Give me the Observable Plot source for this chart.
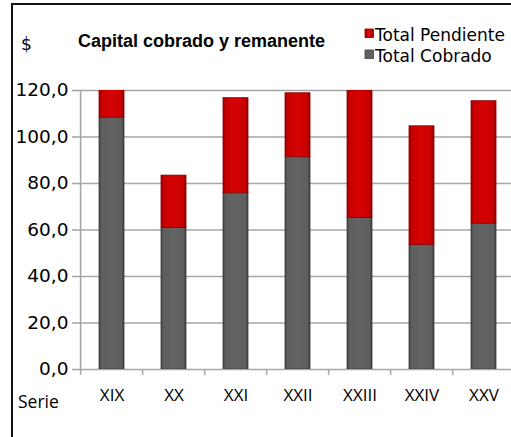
<!DOCTYPE html>
<html><head><meta charset="utf-8">
<script src="https://cdn.jsdelivr.net/npm/d3@7"></script>
<script src="https://cdn.jsdelivr.net/npm/@observablehq/plot@0.6"></script>
<style>
html,body{margin:0;padding:0;background:#fff;overflow:hidden}
#wrap{position:relative;width:511px;height:437px;overflow:hidden;background:#fff}
#frame{position:absolute;left:11px;top:3px;width:600px;height:500px;border-left:2px solid #111;border-top:2px solid #111;box-sizing:border-box}
#chart{position:absolute;left:0;top:0;width:530px}
#chart svg{max-width:none !important}
#over{position:absolute;left:0;top:0}
</style></head><body>
<div id="wrap"><div id="frame"></div><div id="chart"></div><svg id="over" width="511" height="437"></svg></div>
<script>
const series = ["XIX","XX","XXI","XXII","XXIII","XXIV","XXV"];
const totalCobrado = [108.3, 60.9, 75.8, 91.3, 65.2, 53.6, 62.7];
const totalPendiente = [13.0, 22.5, 40.9, 27.5, 54.8, 51.0, 52.7];
const yTicks = [0,20,40,60,80,100,120];
const legendLabels = ["Total Pendiente","Total Cobrado"];
const titleText = "Capital cobrado y remanente";

const table = series.map((s,i)=>({serie:s, cobrado: totalCobrado[i], pendiente: totalPendiente[i], total: totalCobrado[i]+totalPendiente[i]}));
const fmt = d => d.toFixed(1).replace(".", ",");

const W = 530, H = 437, mL = 78, mR = 12.5, mT = 90, mB = 68;
const step = (W - mL - mR) / series.length;
const gridColor = "#a6a6a6";

const plot = Plot.plot({
  width: W, height: H,
  marginLeft: mL, marginRight: mR, marginTop: mT, marginBottom: mB,
  style: {background: "transparent", overflow: "visible", maxWidth: "none"},
  x: {domain: series, paddingInner: 0.6, paddingOuter: 0.3, axis: null, label: null},
  y: {domain: [0,120], axis: null, label: null},
  marks: [
    Plot.ruleY(yTicks, {stroke: gridColor, strokeWidth: 1.6}),
    Plot.ruleX([series[0]], {dx: -step/2, y1: 0, y2: 120, stroke: gridColor, strokeWidth: 1.6}),
    Plot.ruleX(series, {x: d=>d, dx: -step/2, y1: 0, y2: 0, insetBottom: -6, stroke: gridColor, strokeWidth: 1.6}),
    Plot.barY(table, {x: "serie", y1: 0, y2: "cobrado", fill: "url(#gGrey)", stroke: "#3c3c3c", strokeWidth: 0.8, clip: true}),
    Plot.barY(table, {x: "serie", y1: "cobrado", y2: "total", fill: "url(#gRed)", stroke: "#8a0000", strokeWidth: 0.8, clip: true}),
    Plot.axisY({ticks: yTicks, tickSize: 6, tickPadding: 4, tickFormat: fmt, stroke: gridColor, strokeWidth: 1.6,
      fontSize: 18.5, fontFamily: "DejaVu Sans", fill: "#000", anchor: "left", label: null}),
    Plot.axisX({tickSize: 0, tickPadding: 19, fontSize: 17, fontFamily: "Open Sans", fill: "#000", anchor: "bottom", label: null})
  ]
});
document.getElementById("chart").appendChild(plot);

// gradients
const svg = d3.select(plot);
const defs = svg.insert("defs", ":first-child");
const gr = defs.append("linearGradient").attr("id","gRed").attr("x1","0").attr("x2","1").attr("y1","0").attr("y2","0");
gr.append("stop").attr("offset","0").attr("stop-color","#9e0000");
gr.append("stop").attr("offset","0.12").attr("stop-color","#c80000");
gr.append("stop").attr("offset","0.5").attr("stop-color","#d60404");
gr.append("stop").attr("offset","0.88").attr("stop-color","#c80000");
gr.append("stop").attr("offset","1").attr("stop-color","#8e0000");
const gg = defs.append("linearGradient").attr("id","gGrey").attr("x1","0").attr("x2","1").attr("y1","0").attr("y2","0");
gg.append("stop").attr("offset","0").attr("stop-color","#444");
gg.append("stop").attr("offset","0.1").attr("stop-color","#5e5e5e");
gg.append("stop").attr("offset","0.5").attr("stop-color","#636363");
gg.append("stop").attr("offset","0.9").attr("stop-color","#5e5e5e");
gg.append("stop").attr("offset","1").attr("stop-color","#3a3a3a");

// overlay texts
const over = d3.select("#over");
const od = over.append("defs");
const g2 = od.append("linearGradient").attr("id","lRed").attr("x1","0").attr("x2","1");
g2.append("stop").attr("offset","0").attr("stop-color","#9e0000");
g2.append("stop").attr("offset","0.5").attr("stop-color","#e00808");
g2.append("stop").attr("offset","1").attr("stop-color","#9e0000");
over.append("text").attr("x",21).attr("y",50).attr("font-family","DejaVu Sans").attr("font-size",17).text("$");
over.append("text").attr("x",78).attr("y",47).attr("font-family","Liberation Sans").attr("font-weight","bold").attr("font-size",18).text(titleText);
const legendFills = ["url(#lRed)", "#5f5f5f"];
const legendStrokes = ["#8a0000", "#3c3c3c"];
const legendY = [41, 62];
legendLabels.forEach((l,i)=>{
  over.append("rect").attr("x",365).attr("y",legendY[i]-12).attr("width",8.5).attr("height",8.5)
    .attr("fill",legendFills[i]).attr("stroke",legendStrokes[i]).attr("stroke-width",0.8);
  over.append("text").attr("x",375).attr("y",legendY[i]).attr("font-family","DejaVu Sans").attr("font-size",17).text(l);
});
over.append("text").attr("x",18).attr("y",408).attr("font-family","Open Sans").attr("font-size",17.5).text("Serie");
</script>
</body></html>
